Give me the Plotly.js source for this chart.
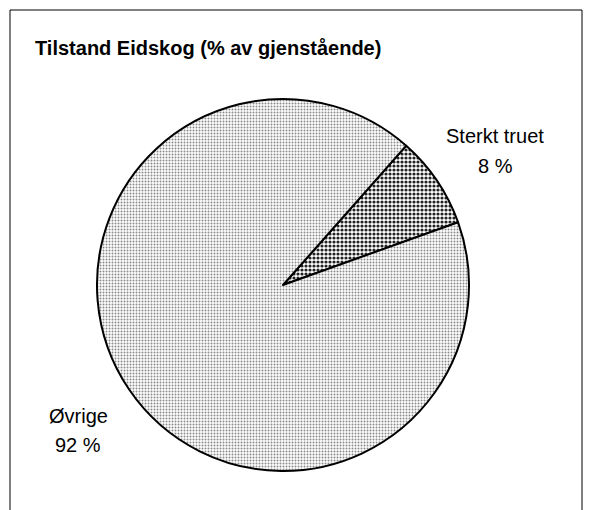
<!DOCTYPE html>
<html>
<head>
<meta charset="utf-8">
<script src="https://cdn.plot.ly/plotly-3.0.1.min.js"></script>
<style>html,body{margin:0;padding:0;background:#fff;}#chart{width:591px;height:510px;}</style>
</head>
<body>
<div id="chart"></div>
<script>
// Data
const title = "Tilstand Eidskog (% av gjenstående)";
const labels = ["Sterkt truet", "Øvrige"];
const values = [8, 92];
const valueText = ["8 %", "92 %"];

// Label placement (paper px) – layout only
const labelPos = [[495, 136, 166], [78, 416, 445]];

const W = 591, H = 510;
const px = x => x / W;
const py = y => 1 - y / H;

const trace = {
  type: "pie",
  labels: labels,
  values: values,
  sort: false,
  direction: "clockwise",
  rotation: 41.5,
  textinfo: "none",
  hoverinfo: "label+percent",
  domain: {x: [px(97), px(469)], y: [py(471), py(99)]},
  marker: {
    colors: ["#ffffff", "#ffffff"],
    line: {color: "#000000", width: 2},
    pattern: {
      shape: [".", "."],
      fgcolor: ["#222222", "#8a8a8a"],
      bgcolor: ["#ffffff", "#ffffff"],
      size: [4, 3],
      solidity: [0.5, 0.35],
      fillmode: "replace"
    }
  },
  showlegend: false
};

const annotations = [];
labels.forEach((lab, i) => {
  const p = labelPos[i];
  annotations.push({text: lab, x: px(p[0]), y: py(p[1]), xref: "paper", yref: "paper",
    xanchor: "center", yanchor: "middle", showarrow: false,
    font: {family: "Liberation Sans, Arial, sans-serif", size: 20, color: "#000"}});
  annotations.push({text: valueText[i], x: px(p[0]), y: py(p[2]), xref: "paper", yref: "paper",
    xanchor: "center", yanchor: "middle", showarrow: false,
    font: {family: "Liberation Sans, Arial, sans-serif", size: 20, color: "#000"}});
});

const layout = {
  width: W, height: H,
  margin: {l: 0, r: 0, t: 0, b: 0},
  paper_bgcolor: "#ffffff",
  plot_bgcolor: "#ffffff",
  title: {
    text: "<b>" + title + "</b>",
    x: px(35), xref: "paper", xanchor: "left",
    y: py(48), yref: "paper", yanchor: "middle",
    font: {family: "Liberation Sans, Arial, sans-serif", size: 20, color: "#000"}
  },
  annotations: annotations,
  shapes: [{
    type: "rect", xref: "paper", yref: "paper",
    x0: px(10), x1: px(582), y0: py(530), y1: py(10),
    line: {color: "#000", width: 1}, fillcolor: "rgba(0,0,0,0)", layer: "below"
  }]
};

Plotly.newPlot("chart", [trace], layout, {displayModeBar: false, staticPlot: true});
</script>
</body>
</html>
